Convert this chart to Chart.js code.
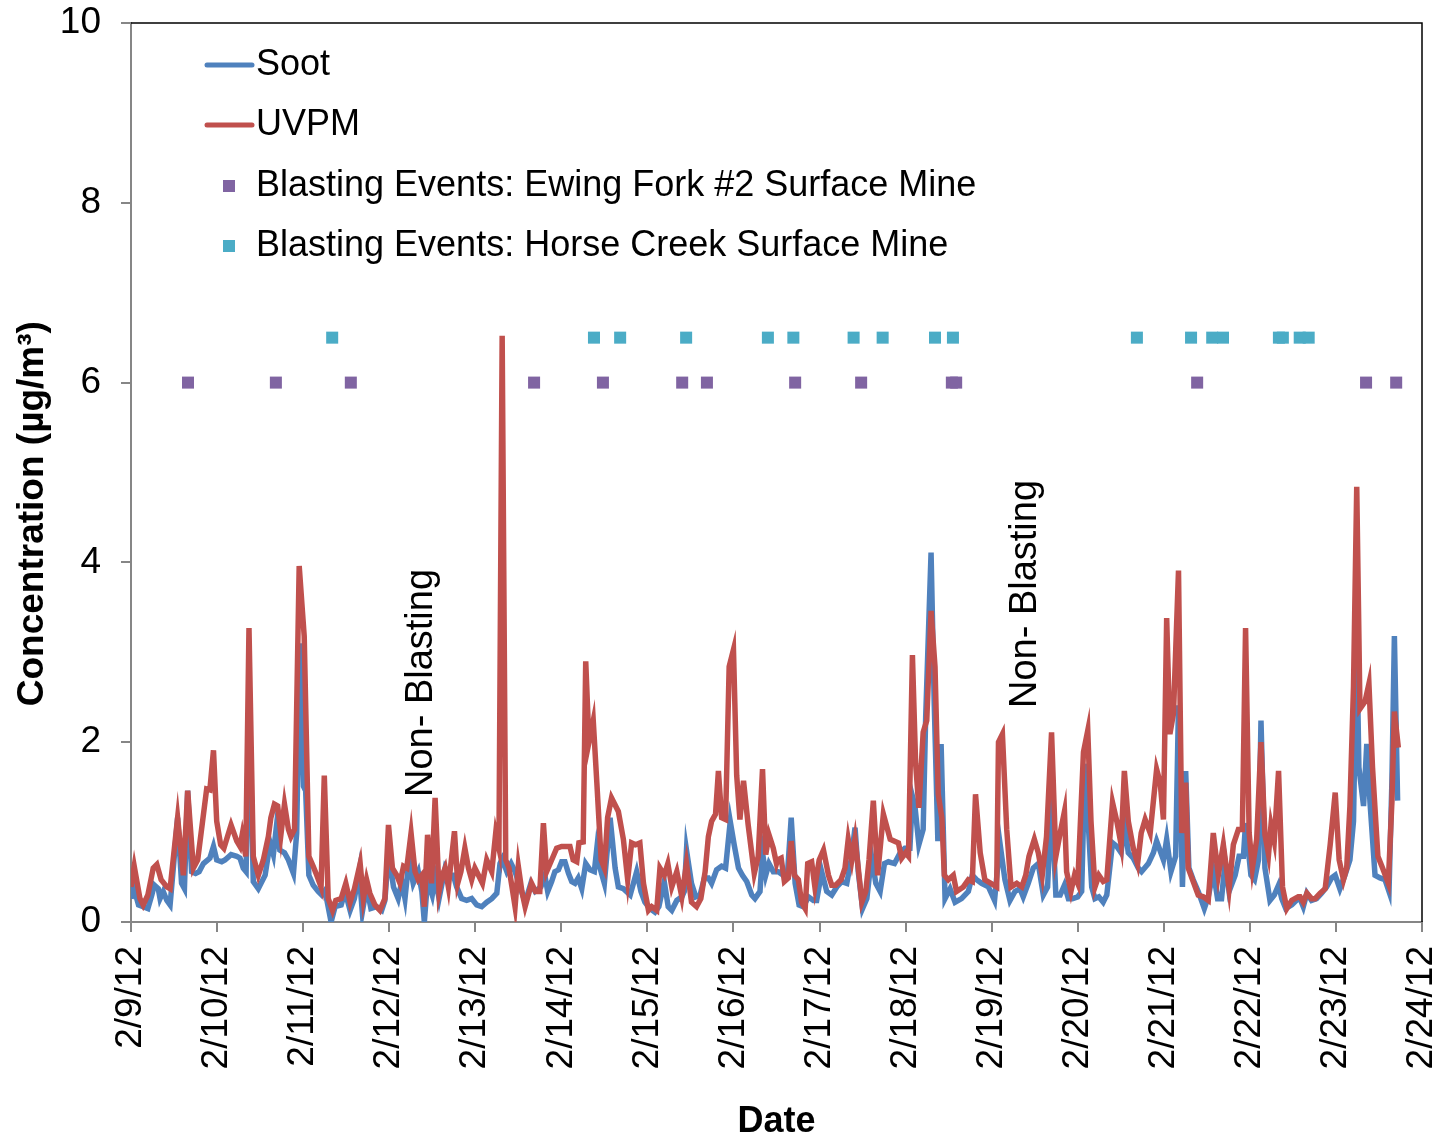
<!DOCTYPE html>
<html>
<head>
<meta charset="utf-8">
<script src="https://cdn.jsdelivr.net/npm/chart.js@4.4.1/dist/chart.umd.min.js"></script>
<style>
  html, body { margin: 0; padding: 0; background: #fff; }
  #wrap { width: 1447px; height: 1144px; position: relative; }
</style>
</head>
<body>
<div id="wrap"><canvas id="chart"></canvas></div>
<script>
// hours since 2/9/12 00:00, concentration in µg/m³
const dateTicks = ['2/9/12', '2/10/12', '2/11/12', '2/12/12', '2/13/12', '2/14/12', '2/15/12', '2/16/12',
    '2/17/12', '2/18/12', '2/19/12', '2/20/12', '2/21/12', '2/22/12', '2/23/12', '2/24/12'];

const soot = [
    [0,0.26],[0.7,0.39],[2.1,0.19],[3.4,0.17],[4.7,0.15],[5.8,0.30],[6.5,0.41],[7.6,0.37],[8.1,0.26],[9.0,0.34],
    [10.0,0.24],[10.9,0.19],[11.8,0.60],[13.0,1.16],[14.1,0.43],[14.9,0.37],[15.8,1.46],[16.9,0.56],[18.0,0.54],
    [19.0,0.56],[20.2,0.65],[22.0,0.71],[23.0,0.84],[23.9,0.69],[25.3,0.67],[26.2,0.69],[27.9,0.75],[29.5,0.73],
    [30.4,0.71],[31.3,0.60],[32.1,0.56],[32.9,2.5],[34.1,0.45],[35.5,0.37],
    [37.4,0.52],[38.8,0.88],[39.7,0.75],[40.6,1.08],[41.5,0.80],[42.8,0.77],[43.9,0.69],[45.3,0.54],[46.2,0.99],
    [47.1,3.1],[48.1,1.51],[48.7,1.46],[49.6,0.52],[50.8,0.41],[52.2,0.34],[53.2,0.30],[54.1,0.35],[55.8,0.0],
    [56.9,0.17],[58.6,0.19],[59.7,0.34],[61.1,0.13],[62.3,0.26],[63.6,0.56],[64.5,0.11],[65.7,0.39],[66.9,0.15],
    [68.5,0.17],[69.9,0.13],[70.8,0.24],
    [71.8,0.77],[73.2,0.39],[74.5,0.26],[75.5,0.45],[76.4,0.26],[77.5,0.69],[78.7,0.43],[80.1,0.56],[81.1,0.34],
    [81.8,0.0],[82.7,0.47],[84.0,0.30],[84.8,0.5],[85.9,0.26],[87.6,0.60],[88.7,0.52],[89.9,0.52],[90.8,0.39],
    [92.2,0.26],[93.6,0.24],[95.0,0.26],[96.4,0.19],[97.8,0.17],[99.2,0.22],[100.6,0.26],[102.0,0.32],[102.9,0.65],
    [103.5,0.7],[104.8,0.56],[106.0,0.65],[107.1,0.56],
    [108.5,0.39],[109.9,0.22],[111.5,0.43],[112.7,0.34],[114.3,0.39],[115.4,0.52],[116.2,0.34],[117.3,0.45],
    [118.2,0.56],[119.2,0.58],[120.1,0.67],[121.0,0.67],[122.0,0.54],[122.9,0.45],[123.8,0.43],[124.7,0.49],
    [125.7,0.37],[126.8,0.65],[128.0,0.58],[129.2,0.56],[129.9,0.82],[130.8,0.60],[132.0,0.43],[133.6,1.16],
    [135.0,0.60],[135.9,0.39],[137.3,0.37],[139.2,0.30],[141.0,0.56],[142.2,0.34],[143.3,0.22],[144.3,0.17],
    [144.7,0.15],[146.1,0.11],[147.2,0.17],[148.7,0.45],[149.8,0.17],[150.8,0.13],[152.2,0.24],[153.6,0.28],
    [154.3,0.34],[154.9,0.80],[156.3,0.43],[157.5,0.28],[158.7,0.30],[159.9,0.49],[161.0,0.49],[161.9,0.43],
    [163.3,0.58],[164.7,0.62],[165.8,0.60],[167.1,1.12],[168.2,0.86],[169.4,0.60],[170.5,0.52],[171.7,0.45],
    [173.1,0.30],[174.0,0.26],[175.4,0.34],[176.1,0.77],[177.0,0.52],[177.9,0.65],[179.1,0.56],[180.5,0.56],
    [181.9,0.52],[183.1,0.56],[184.1,1.16],[185.2,0.43],[186.3,0.19],[187.5,0.17],[188.9,0.28],[190.3,0.24],
    [191.2,0.24],[192.6,0.56],[194.0,0.34],[195.4,0.30],[196.8,0.39],[198.2,0.45],[199.6,0.43],[200.8,0.69],
    [201.9,1.05],[202.8,0.56],[204.0,0.15],[205.2,0.26],[206.5,0.73],[207.7,0.43],[208.9,0.34],[210.1,0.65],
    [211.2,0.67],[212.9,0.65],[214.5,0.77],[215.8,0.82],[217.2,0.82],
    [217.9,1.4],[218.6,1.29],[219.7,0.86],[220.9,1.03],[221.6,2.28],[223.1,4.11],[224.0,2.41],[225.0,0.90],
    [225.9,1.98],[227.0,0.26],[228.4,0.37],[229.8,0.22],[231.6,0.26],[233.5,0.34],[234.6,0.52],[235.8,0.47],
    [237.2,0.43],[239.1,0.39],[240.8,0.24],[242.3,0.88],[243.7,0.47],[245.1,0.24],[246.5,0.34],[247.9,0.37],
    [248.8,0.28],[250.2,0.43],[251.6,0.60],[253.0,0.65],
    [254.4,0.30],[255.6,0.39],[256.7,1.38],[257.9,0.30],[259.1,0.30],[260.3,0.41],[261.4,0.26],[262.5,0.26],
    [264.0,0.28],[265.1,0.34],[266.0,1.76],[266.8,1.2],[267.9,0.39],[268.8,0.26],[269.9,0.28],[271.1,0.22],
    [272.1,0.30],[273.7,0.88],[274.9,0.84],[276.1,0.77],[277.0,1.12],[278.1,0.77],[279.5,0.71],[280.9,0.60],
    [281.8,0.56],[283.7,0.65],[285.1,0.77],[286.0,0.90],[287.9,0.69],[288.8,0.92],
    [290.0,0.56],[291.3,0.73],[292.1,2.41],[293.2,0.39],[294.1,1.68],[295.0,0.60],[296.2,0.47],[297.6,0.34],
    [299.3,0.15],[300.4,0.28],[301.8,0.56],[303.0,0.26],[304.1,0.26],[305.1,0.67],[306.2,0.34],[307.9,0.52],
    [309.0,0.73],[310.2,0.73],[310.8,1.1],[312.3,0.52],[313.3,0.47],[314.4,0.69],[315.1,2.24],[316.2,0.60],
    [317.6,0.24],[318.8,0.30],[320.0,0.41],[320.9,0.26],[322.0,0.15],[323.7,0.19],[325.5,0.26],
    [326.0,0.26],[326.9,0.17],[327.9,0.32],[329.2,0.24],[330.6,0.26],[332.0,0.32],[333.4,0.39],[334.8,0.49],
    [335.8,0.52],[337.1,0.37],[338.5,0.52],[339.9,0.69],[340.9,1.12],[341.8,3.2],[342.4,1.72],[343.7,1.29],
    [344.6,1.98],[345.5,1.33],[346.9,0.52],[348.3,0.49],[349.7,0.47],[350.8,0.34],[351.6,1.55],[352.3,3.18],
    [353.2,1.35]
];

const uvpm = [
    [0,0.39],[0.9,0.62],[2.5,0.26],[3.4,0.19],[4.7,0.30],[6.2,0.60],[7.2,0.64],[8.4,0.47],[10.0,0.39],[10.9,0.37],
    [13.0,1.16],[14.6,0.52],[15.8,1.46],[17.4,0.60],[18.6,0.69],[21.1,1.48],[22.0,1.47],[23.0,1.91],[23.9,1.12],
    [25.0,0.86],[25.9,0.82],[27.9,1.08],[29.5,0.90],[30.4,0.84],[31.0,0.97],[32.0,0.73],[32.9,3.27],[34.1,0.73],
    [35.5,0.52],
    [36.9,0.69],[38.3,0.95],[39.0,1.16],[40.0,1.31],[40.9,1.29],[41.8,0.97],[42.8,1.31],[43.9,1.03],[44.6,0.95],
    [45.6,1.03],[46.9,3.96],[48.3,3.18],[49.6,0.73],[50.8,0.62],[51.8,0.52],[53.0,0.39],[53.9,1.63],[55.0,0.26],
    [56.2,0.13],[57.1,0.24],[58.6,0.26],[59.9,0.43],[61.1,0.22],[62.3,0.37],[63.9,0.65],[64.8,0.26],[65.7,0.47],
    [66.6,0.32],[68.0,0.19],[69.4,0.13],[70.8,0.26],[71.8,1.08],
    [72.9,0.60],[74.1,0.52],[75.0,0.43],[76.0,0.62],[76.9,0.60],[78.1,0.99],[79.2,0.56],[80.1,0.47],[81.1,0.52],
    [81.8,0.17],[82.7,0.97],[83.8,0.43],[84.8,1.38],[85.9,0.34],[86.8,0.52],[87.6,0.60],[88.5,0.39],[90.2,1.01],
    [91.1,0.43],[92.0,0.56],[93.1,0.82],[94.1,0.60],[95.0,0.47],[95.9,0.60],[96.9,0.52],[98.0,0.43],[99.2,0.69],
    [100.6,0.56],[101.7,0.99],[102.6,0.82],[103.5,6.52],[104.5,0.69],[105.4,0.60],[106.2,0.40],[107.1,0.17],
    [108.0,0.62],[109.0,0.34],[109.9,0.17],[111.7,0.43],[112.8,0.34],[114.0,0.34],[115.0,1.10],[115.9,0.56],
    [117.3,0.69],[118.7,0.82],[120.1,0.84],[122.4,0.84],[123.3,0.69],[124.3,0.67],[124.9,0.88],[126.1,0.89],
    [126.8,2.90],[127.7,2.0],[128.9,2.24],[129.9,1.55],[131.1,0.69],[132.0,0.60],[132.9,1.16],[134.0,1.38],
    [135.9,1.23],[137.3,0.92],[138.5,0.47],[139.6,0.88],[140.7,0.86],[141.9,0.88],[142.9,0.43],[144.3,0.13],
    [145.2,0.17],[146.6,0.13],[147.5,0.60],[148.7,0.52],[149.7,0.65],[150.8,0.39],[152.2,0.56],[153.6,0.28],
    [154.9,0.65],[156.3,0.22],[157.7,0.17],[158.9,0.26],[160.1,0.56],[161.0,0.95],[161.9,1.12],[163.0,1.20],
    [163.8,1.68],[164.7,1.16],[165.8,1.14],[166.8,2.84],[168.0,3.03],[168.9,1.63],[169.8,1.14],[170.8,1.57],
    [172.1,1.08],[173.8,0.54],[174.9,0.73],[176.1,1.70],[177.0,0.75],[177.9,0.97],[179.1,0.82],[180.0,0.65],
    [180.3,0.69],[181.3,0.71],[182.2,0.45],[183.3,0.49],[184.1,0.90],[185.0,0.52],[186.1,0.47],[187.0,0.22],
    [188.0,0.15],[188.7,0.65],[189.8,0.67],[190.7,0.39],[191.9,0.69],[193.1,0.80],[194.5,0.52],[195.4,0.41],
    [196.5,0.41],[198.0,0.47],[199.1,0.60],[200.0,0.92],[201.0,0.69],[201.9,0.92],[202.8,0.60],[203.8,0.22],
    [204.9,0.34],[205.8,0.69],[207.0,1.35],[208.2,0.52],[209.8,1.20],[211.7,0.92],[214.0,0.88],[214.9,0.71],
    [216.0,0.77],[216.8,0.73],
    [217.9,2.97],[218.8,1.76],[219.7,1.27],[220.9,2.11],[221.9,2.24],[223.1,3.46],[224.2,2.84],[225.1,1.42],
    [226.1,1.16],[226.8,0.52],[227.9,0.47],[229.3,0.52],[230.2,0.34],[232.1,0.39],[233.5,0.47],[234.6,0.45],
    [235.5,1.42],[236.8,0.77],[238.1,0.47],[239.8,0.43],[241.4,0.39],[241.9,2.0],[243.0,2.09],[244.2,1.03],
    [245.4,0.39],[247.0,0.43],[248.4,0.39],[249.5,0.52],[250.4,0.73],[251.9,0.92],[253.0,0.77],
    [254.1,0.52],[255.3,0.95],[256.7,2.11],[257.9,0.73],[259.1,0.99],[260.3,1.23],[260.9,0.56],[262.1,0.34],
    [263.1,0.52],[264.0,0.43],[265.6,1.89],[266.8,2.13],[267.7,1.12],[268.8,0.39],[269.9,0.52],[271.1,0.45],
    [272.1,0.47],[273.7,1.33],[274.9,1.12],[276.1,0.86],[277.0,1.68],[278.1,1.12],[279.5,0.82],[280.7,0.65],
    [281.7,0.99],[282.8,1.14],[284.2,0.99],[286.0,1.70],[287.0,1.55],[287.9,1.14],[288.8,3.38],
    [289.7,2.09],[290.7,2.32],[292.1,3.91],[293.0,0.99],[294.1,1.55],[294.8,0.60],[296.2,0.45],[297.6,0.30],
    [299.0,0.28],[300.4,0.24],[301.8,0.99],[303.2,0.52],[304.6,0.86],[306.2,0.37],[307.4,0.86],[308.8,1.03],
    [309.9,1.03],[310.8,3.27],[311.8,0.99],[312.7,0.60],[313.9,0.92],[315.1,2.0],[316.2,0.97],[317.2,0.75],
    [317.9,1.08],[318.8,0.90],[320.0,1.68],[321.1,0.39],[322.3,0.15],[323.7,0.24],[325.5,0.28],
    [326.0,0.28],[326.9,0.22],[327.9,0.32],[329.2,0.26],[330.2,0.26],[331.6,0.32],[333.0,0.37],[334.4,0.86],
    [335.8,1.44],[336.9,0.69],[338.1,0.47],[339.0,0.60],[339.9,1.29],[340.9,2.62],[341.8,4.84],[342.7,2.37],
    [344.1,2.45],[345.2,2.65],[346.2,1.72],[347.7,0.73],[349.0,0.60],[350.6,0.43],[351.6,1.33],[352.3,2.34],
    [353.4,1.94]
];

const ewingForkHours = [15.9, 40.4, 61.3, 112.4, 131.6, 153.7, 160.6, 185.2, 203.6, 228.9, 230.1, 297.3, 344.4, 352.8];
const ewingForkLevel = 6;
const horseCreekHours = [56.1, 129.1, 136.4, 154.8, 177.6, 184.7, 201.5, 209.6, 224.2, 229.2, 280.5, 295.6,
    301.5, 304.5, 320.1, 321.2, 325.9, 328.4];
const horseCreekLevel = 6.5;

const notes = [
    { text: 'Non- Blasting', hour: 80.9, value: 1.39 },
    { text: 'Non- Blasting', hour: 249.3, value: 2.38 }
];

const yTitle = 'Concentration (µg/m³)';

const FONT = "'Liberation Sans', Arial, sans-serif";

const toPoints = arr => arr.map(p => ({ x: p[0], y: p[1] }));

// keep the plot box fixed, whatever the label sizes
const fixPadding = scale => {
    scale.paddingTop = 0;
    scale.paddingBottom = 0;
    scale.paddingLeft = 0;
    scale.paddingRight = 0;
};

const extrasPlugin = {
    id: 'extras',
    afterDraw(chart) {
        const ctx = chart.ctx;
        const area = chart.chartArea;
        ctx.save();
        // box on top and right
        ctx.strokeStyle = '#000';
        ctx.lineWidth = 1.5;
        ctx.beginPath();
        ctx.moveTo(area.left, area.top);
        ctx.lineTo(area.right, area.top);
        ctx.lineTo(area.right, area.bottom);
        ctx.stroke();

        // y title, centred on the whole picture like the original
        ctx.fillStyle = '#000';
        ctx.font = 'bold 37px ' + FONT;
        ctx.save();
        ctx.translate(33, chart.height * 0.449);
        ctx.rotate(-Math.PI / 2);
        ctx.textAlign = 'center';
        ctx.textBaseline = 'middle';
        ctx.fillText(yTitle, 0, 0);
        ctx.restore();

        // notes
        const xs = chart.scales.x, ys = chart.scales.y;
        ctx.font = '38px ' + FONT;
        notes.forEach(n => {
            ctx.save();
            ctx.translate(xs.getPixelForValue(n.hour), ys.getPixelForValue(n.value));
            ctx.rotate(-Math.PI / 2);
            ctx.textAlign = 'left';
            ctx.textBaseline = 'middle';
            ctx.fillText(n.text, 0, 0);
            ctx.restore();
        });

        // legend
        const rowY = [65, 125, 186, 246];
        ctx.font = '36px ' + FONT;
        ctx.textAlign = 'left';
        ctx.textBaseline = 'middle';
        chart.data.datasets.forEach((ds, k) => {
            const y = rowY[k];
            if (ds.showLine === false) {
                ctx.fillStyle = ds.pointBackgroundColor;
                ctx.fillRect(223, y - 6, 12, 12);
            } else {
                ctx.strokeStyle = ds.borderColor;
                ctx.lineWidth = 5;
                ctx.lineCap = 'round';
                ctx.beginPath();
                ctx.moveTo(207, y);
                ctx.lineTo(252, y);
                ctx.stroke();
            }
            ctx.fillStyle = '#000';
            ctx.fillText(ds.label, 256, y);
        });
        ctx.restore();
    }
};

new Chart(document.getElementById('chart'), {
    type: 'line',
    data: {
        datasets: [
            {
                label: 'Soot',
                data: toPoints(soot),
                borderColor: '#4F81BD',
                borderWidth: 5.5,
                pointRadius: 0,
                tension: 0,
                order: 3
            },
            {
                label: 'UVPM',
                data: toPoints(uvpm),
                borderColor: '#C0504D',
                borderWidth: 5.5,
                pointRadius: 0,
                tension: 0,
                order: 2
            },
            {
                label: 'Blasting Events: Ewing Fork #2 Surface Mine',
                data: ewingForkHours.map(h => ({ x: h, y: ewingForkLevel })),
                showLine: false,
                pointStyle: 'rect',
                pointRadius: 8.5,
                pointBorderWidth: 0,
                pointBackgroundColor: '#8064A2',
                borderColor: '#8064A2',
                order: 1
            },
            {
                label: 'Blasting Events: Horse Creek Surface Mine',
                data: horseCreekHours.map(h => ({ x: h, y: horseCreekLevel })),
                showLine: false,
                pointStyle: 'rect',
                pointRadius: 8.5,
                pointBorderWidth: 0,
                pointBackgroundColor: '#4BACC6',
                borderColor: '#4BACC6',
                order: 0
            }
        ]
    },
    options: {
        responsive: true,
        maintainAspectRatio: false,
        animation: false,
        layout: { padding: { top: 23, right: 25, left: 0, bottom: 0 } },
        plugins: {
            legend: { display: false },
            tooltip: { enabled: false }
        },
        scales: {
            x: {
                type: 'linear',
                min: 0,
                max: 360,
                afterFit: scale => { scale.height = 222; fixPadding(scale); },
                ticks: {
                    stepSize: 24,
                    autoSkip: false,
                    maxRotation: 90,
                    minRotation: 90,
                    padding: 14,
                    color: '#000',
                    font: { family: FONT, size: 37 },
                    callback: value => dateTicks[Math.round(value / 24)]
                },
                grid: { drawOnChartArea: false, tickLength: 10, color: '#868686', lineWidth: 2 },
                border: { color: '#868686', width: 2 },
                title: {
                    display: true,
                    text: 'Date',
                    color: '#000',
                    font: { family: FONT, size: 36, weight: 'bold' },
                    padding: { top: 0, bottom: 0 }
                }
            },
            y: {
                min: 0,
                max: 10,
                afterFit: scale => { scale.width = 131; fixPadding(scale); },
                ticks: {
                    stepSize: 2,
                    padding: 20,
                    color: '#000',
                    font: { family: FONT, size: 37 }
                },
                grid: { drawOnChartArea: false, tickLength: 10, color: '#868686', lineWidth: 2 },
                border: { color: '#868686', width: 2 }
            }
        }
    },
    plugins: [extrasPlugin]
});
</script>
</body>
</html>
